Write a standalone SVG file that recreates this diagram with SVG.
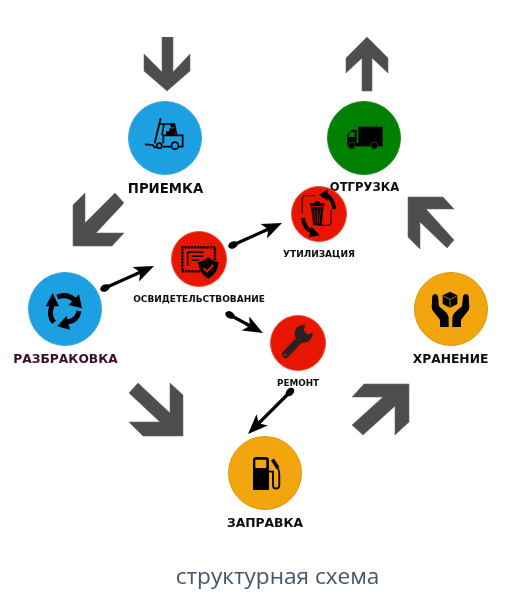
<svg xmlns="http://www.w3.org/2000/svg" width="507" height="600" viewBox="0 0 507 600">
<style>
.big{fill:#4d4d4d;stroke:#6a6a6a;stroke-width:.6}
.c1{stroke-width:1}
.blue{fill:#1ca0e2;stroke:#3aa6dc}
.green{fill:#008000;stroke:#1a8a1a}
.red{fill:#e81500;stroke:#e8503c}
.orange{fill:#f3a50c;stroke:#d9950f}
text{font-family:"DejaVu Sans",sans-serif;font-weight:700;fill:#0c0c0c;text-anchor:middle}
.l{font-size:12.3px}
.s{font-size:9px}
.cap{font-family:"Open Sans",sans-serif;font-weight:400;font-size:22.6px;fill:#44546a}
.conn{stroke:#000;stroke-width:3.2;fill:none;marker-start:url(#ball);marker-end:url(#head)}
</style>
<defs>
<filter id="soft" x="0" y="0" width="100%" height="100%"><feGaussianBlur stdDeviation="0.4"/></filter>
<marker id="head" markerUnits="userSpaceOnUse" markerWidth="30" markerHeight="24" refX="10" refY="12" orient="auto" viewBox="0 0 30 24"><path d="M20 12 L0 4 L4 10.500 L0 10.500 V13.500 L4 13.500 L0 20Z" fill="#000"/></marker>
<marker id="ball" markerUnits="userSpaceOnUse" markerWidth="14" markerHeight="12" refX="7" refY="6" orient="auto" viewBox="0 0 14 12"><ellipse cx="7" cy="6" rx="5" ry="3.500" fill="#000"/></marker>
</defs>
<rect width="507" height="600" fill="#fff"/>
<g filter="url(#soft)">
<g id="flow-arrows">
<polygon class="big" points="162,37 173,37 173,72 190,54 190,71 167,91 144,71 144,54 162,72"/>
<polygon class="big" points="367,37 388,58 388,73 372,58 372,91 362,91 362,58 346,73 346,58"/>
<polygon class="big" points="85,193 85,223 115,193 124,203 96,233 124,233 112,246 73,246 73,205"/>
<polygon class="big" points="408,197 443,197 454,209 426,209 454,240 447,248 420,222 420,249 408,237"/>
<polygon class="big" points="129,393 138,383 170,413 170,383 183,395 183,436 143,436 129,422 160,422"/>
<polygon class="big" points="409,384 409,422 395,435 395,406 363,435 352,425 383,397 352,397 364,384"/>
</g>
<g id="connectors">
<line class="conn" x1="105" y1="288" x2="144.9" y2="270.1"/>
<line class="conn" x1="233" y1="245" x2="272.9" y2="227.1"/>
<line class="conn" x1="230" y1="315" x2="254.2" y2="328.2"/>
<line class="conn" x1="290" y1="392" x2="255.1" y2="426.9"/>
</g>
<g id="node-priemka">
<circle class="blue c1" cx="165" cy="138" r="36.5"/>
<g transform="translate(140 110) scale(.3333)" fill="none" stroke="#000" stroke-width="5">
<path d="M62 25 L44 100" stroke-width="5.500"/>
<path d="M15 103 L38 105 L44 112 L50 112"/>
<path d="M60 42 H103 L110 74"/>
<path d="M72 42 L66 76"/>
<path d="M70 100 V76 H128 V110 H116 M94 110 H68"/>
<circle cx="97" cy="47" r="6" fill="#000" stroke="none"/>
<path d="M88 55 H106 V75 H78 V64 H88Z" fill="#000" stroke="none"/>
<circle cx="58" cy="107" r="7.500" fill="#1ca0e2"/>
<circle cx="105" cy="107" r="10.500" fill="#1ca0e2"/>
</g>
<text class="l" x="165.500" y="193" style="font-size:13.3px">ПРИЕМКА</text>
</g>
<g id="node-otgruzka">
<circle class="green c1" cx="364" cy="138" r="36.5"/>
<g transform="translate(340 115) scale(.3333)">
<rect x="55" y="35" width="73" height="50"/>
<path d="M22 92 V60 L35 44 H50 V92Z"/>
<path d="M29 52 H44 V66 H27 V60Z" fill="#008000"/>
<rect x="22" y="84" width="106" height="10"/>
<circle cx="35" cy="92" r="10.5" stroke="#008000" stroke-width="2"/>
<circle cx="103" cy="92" r="10.5" stroke="#008000" stroke-width="2"/>
</g>
<text class="l" x="364.500" y="191" style="font-size:11.6px">ОТГРУЗКА</text>
</g>
<g id="node-razbrakovka">
<circle class="blue c1" cx="65" cy="309" r="36.5"/>
<g transform="translate(40 285) scale(.3333)">
<g fill="none" stroke="#000" stroke-width="15">
<path d="M52 36 Q82 24 106 47"/>
<path d="M117 78 Q112 108 80 112"/>
<path d="M42 112 Q24 92 36 62"/>
</g>
<polygon points="117,28 126,70 86,60"/>
<polygon points="52,124 80,92 90,134"/>
<polygon points="38,24 17,64 57,64"/>
</g>
<text class="l" x="65.500" y="363" style="fill:#3a0f2a">РАЗБРАКОВКА</text>
</g>
<g id="node-osvidetelstvovanie">
<circle class="red c1" cx="199" cy="259" r="27.500"/>
<g transform="translate(175 235) scale(.3333)">
<rect x="22" y="37" width="98" height="72" fill="none" stroke="#000" stroke-width="8.500" stroke-linecap="round" stroke-dasharray="0 9.500"/>
<path d="M38 52 H85 M38 52 V92 M50 64 H85 M50 76 H72" fill="none" stroke="#000" stroke-width="4.500"/>
<path d="M100 66 Q115 78 132 80 Q132 114 100 133 Q68 114 68 80 Q85 78 100 66Z" stroke="#e81500" stroke-width="3"/>
<path d="M86 100 L96 110 L115 90" fill="none" stroke="#e81500" stroke-width="6"/>
</g>
<text class="s" x="199" y="302">ОСВИДЕТЕЛЬСТВОВАНИЕ</text>
</g>
<g id="node-utilizatsiya">
<circle class="red c1" cx="319" cy="214" r="27.500"/>
<g transform="translate(295 190) scale(.3333)">
<path d="M60 17 H33 Q22 17 22 28 V70 M108 60 V95 Q108 106 97 106 H72" fill="none" stroke="#3a0c04" stroke-width="4"/>
<path d="M60 33 H75 V40 H88 V48 H45 V40 H60Z"/>
<path d="M48 50 H86 L80 106 H55Z"/>
<path d="M58 58 L61 100 M67 58 V100 M76 58 L73 100" stroke="#a01206" stroke-width="3"/>
<g fill="none" stroke="#000" stroke-width="12">
<path d="M90 14 Q114 22 118 58"/>
<path d="M24 84 Q26 114 52 126"/>
</g>
<polygon points="72,15 98,-2 98,32"/>
<polygon points="74,136 50,110 42,142"/>
</g>
<text class="s" x="319" y="257">УТИЛИЗАЦИЯ</text>
</g>
<g id="node-remont">
<circle class="red c1" cx="298" cy="343" r="27.500"/>
<g transform="translate(275 320) scale(.3333)">
<circle cx="86" cy="41" r="27" fill="#2a2020"/>
<path d="M32 103 L76 56" stroke="#2a2020" stroke-width="22" stroke-linecap="round"/>
<polygon points="86,30 95,6 128,26 104,42 95,42" fill="#e81500"/>
<circle cx="31" cy="104" r="3.500" fill="#e81500"/>
</g>
<text class="s" x="298" y="386" style="font-size:8.8px">РЕМОНТ</text>
</g>
<g id="node-hranenie">
<circle class="orange c1" cx="451" cy="309" r="36.5"/>
<g transform="translate(425 285) scale(.3333)">
<polygon points="75,20 97,31 97,57 75,68 53,57 53,31"/>
<path d="M55 33 L75 43 L95 33 M75 43 V66" fill="none" stroke="#f3a50c" stroke-width="2"/>
<path d="M22 33 Q30 21 39 33 L42 64 L59 78 Q71 88 71 102 V126 H45 V104 L26 80 Q20 74 20 66Z"/>
<path d="M131 33 Q123 21 114 33 L111 64 L94 78 Q82 88 82 102 V126 H108 V104 L127 80 Q133 74 133 66Z"/>
</g>
<text class="l" x="450.500" y="363">ХРАНЕНИЕ</text>
</g>
<g id="node-zapravka">
<circle class="orange c1" cx="265" cy="473" r="36.5"/>
<g transform="translate(240 450) scale(.3333)">
<path d="M49 21 H77 Q87 21 87 31 V120 H39 V31 Q39 21 49 21Z"/>
<rect x="46" y="29" width="33" height="25" rx="3" fill="#f3a50c"/>
<path d="M87 65 H99 V106 Q99 116 108 116 Q118 116 118 106 V72 Q118 58 110 48" fill="none" stroke="#000" stroke-width="5.500"/>
<polygon points="93,31 102,26 118,50 109,57"/>
</g>
<text class="l" x="265" y="527">ЗАПРАВКА</text>
</g>
<text class="cap" x="277.500" y="584">структурная схема</text>
</g>
</svg>
